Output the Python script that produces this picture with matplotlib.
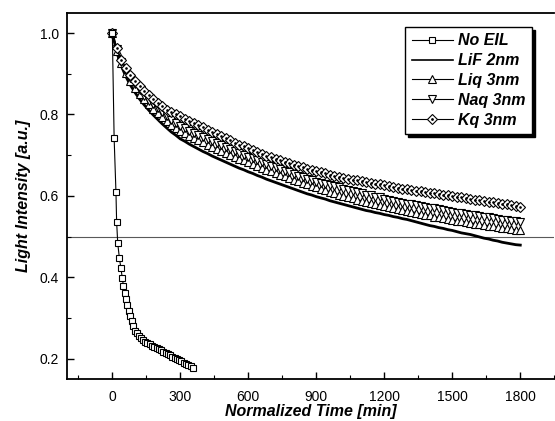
import matplotlib.pyplot as plt
from matplotlib.ticker import MultipleLocator
from matplotlib.legend_handler import HandlerTuple

plt.rcParams['font.family'] = ['Liberation Sans', 'DejaVu Sans']

# sampling grid of the long-lived devices, every 20 min
time_min = list(range(0, 1801, 20))

kq_3nm = [
    1.000, 0.964, 0.935, 0.915, 0.898, 0.883, 0.870, 0.858, 0.847, 0.837,
    0.828, 0.820, 0.812, 0.806, 0.800, 0.795, 0.789, 0.784, 0.778, 0.773,
    0.768, 0.763, 0.757, 0.752, 0.747, 0.742, 0.737, 0.731, 0.726, 0.722,
    0.717, 0.713, 0.708, 0.704, 0.699, 0.695, 0.691, 0.687, 0.683, 0.680,
    0.676, 0.673, 0.670, 0.667, 0.664, 0.661, 0.658, 0.655, 0.652, 0.650,
    0.647, 0.645, 0.642, 0.640, 0.638, 0.636, 0.634, 0.632, 0.630, 0.628,
    0.626, 0.624, 0.622, 0.620, 0.618, 0.616, 0.614, 0.613, 0.611, 0.609,
    0.607, 0.606, 0.604, 0.602, 0.601, 0.599, 0.597, 0.596, 0.594, 0.592,
    0.591, 0.589, 0.587, 0.586, 0.584, 0.582, 0.581, 0.579, 0.577, 0.575,
    0.573,
]

naq_3nm = [
    1.000, 0.960, 0.930, 0.907, 0.890, 0.874, 0.859, 0.846, 0.834, 0.825,
    0.815, 0.805, 0.796, 0.787, 0.779, 0.771, 0.766, 0.760, 0.755, 0.749,
    0.744, 0.740, 0.735, 0.730, 0.725, 0.720, 0.715, 0.710, 0.705, 0.701,
    0.696, 0.692, 0.687, 0.683, 0.678, 0.674, 0.670, 0.666, 0.662, 0.658,
    0.654, 0.650, 0.646, 0.642, 0.639, 0.635, 0.632, 0.630, 0.627, 0.624,
    0.621, 0.618, 0.615, 0.612, 0.609, 0.606, 0.603, 0.601, 0.598, 0.596,
    0.593, 0.591, 0.588, 0.586, 0.583, 0.581, 0.579, 0.577, 0.574, 0.572,
    0.570, 0.569, 0.567, 0.565, 0.563, 0.561, 0.559, 0.557, 0.556, 0.554,
    0.552, 0.550, 0.548, 0.547, 0.545, 0.543, 0.541, 0.540, 0.538, 0.537,
    0.535,
]

liq_3nm = [
    1.000, 0.956, 0.926, 0.903, 0.882, 0.866, 0.851, 0.838, 0.826, 0.813,
    0.803, 0.793, 0.784, 0.775, 0.767, 0.759, 0.754, 0.748, 0.743, 0.737,
    0.732, 0.726, 0.721, 0.716, 0.711, 0.706, 0.701, 0.696, 0.691, 0.687,
    0.682, 0.678, 0.673, 0.669, 0.664, 0.660, 0.656, 0.652, 0.648, 0.644,
    0.640, 0.636, 0.632, 0.628, 0.625, 0.621, 0.617, 0.614, 0.610, 0.607,
    0.603, 0.600, 0.597, 0.594, 0.591, 0.588, 0.585, 0.583, 0.580, 0.578,
    0.575, 0.573, 0.570, 0.568, 0.565, 0.563, 0.561, 0.559, 0.556, 0.554,
    0.552, 0.549, 0.547, 0.545, 0.543, 0.541, 0.539, 0.537, 0.536, 0.534,
    0.532, 0.530, 0.528, 0.527, 0.525, 0.523, 0.521, 0.520, 0.518, 0.517,
    0.515,
]

lif_2nm = [
    1.000, 0.952, 0.919, 0.893, 0.872, 0.854, 0.838, 0.824, 0.811, 0.799,
    0.788, 0.777, 0.767, 0.757, 0.749, 0.740, 0.734, 0.727, 0.721, 0.715,
    0.709, 0.704, 0.698, 0.693, 0.688, 0.683, 0.678, 0.673, 0.668, 0.664,
    0.659, 0.655, 0.650, 0.646, 0.641, 0.637, 0.633, 0.629, 0.625, 0.621,
    0.617, 0.613, 0.609, 0.605, 0.602, 0.598, 0.595, 0.592, 0.588, 0.585,
    0.582, 0.579, 0.576, 0.573, 0.570, 0.567, 0.564, 0.562, 0.559, 0.557,
    0.554, 0.552, 0.549, 0.547, 0.544, 0.542, 0.539, 0.536, 0.533, 0.530,
    0.527, 0.525, 0.522, 0.520, 0.517, 0.515, 0.512, 0.509, 0.507, 0.505,
    0.502, 0.499, 0.496, 0.494, 0.491, 0.489, 0.486, 0.484, 0.482, 0.480,
    0.479,
]

# device without electron injection layer
time_no_eil = [
    0, 8, 16, 19, 24, 31, 38, 44, 49, 55, 60, 66, 72, 78, 85, 92, 100,
    108, 116, 125, 135, 145, 155, 165, 175, 185, 195, 205, 215, 225, 235,
    245, 255, 265, 275, 285, 295, 305, 315, 325, 335, 345, 355,
]
no_eil = [
    1.000, 0.742, 0.610, 0.536, 0.483, 0.448, 0.422, 0.398, 0.379, 0.362,
    0.347, 0.332, 0.318, 0.305, 0.292, 0.280, 0.269, 0.262, 0.256, 0.251,
    0.246, 0.242, 0.238, 0.235, 0.232, 0.229, 0.226, 0.223, 0.220, 0.217,
    0.214, 0.211, 0.208, 0.205, 0.202, 0.199, 0.196, 0.193, 0.190, 0.187,
    0.184, 0.181, 0.177,
]

half_life_level = 0.5


fig = plt.figure(figsize=(5.55, 4.21), dpi=100)
ax = fig.add_axes([0.1207, 0.0998, 0.878, 0.870])

ax.axhline(half_life_level, color='0.35', lw=0.8, zorder=1)

ax.plot(time_min, lif_2nm, color='black', lw=2.0, zorder=2)

mk = dict(color='black', lw=0.8, markerfacecolor='white',
          markeredgecolor='black', markeredgewidth=0.8)

ax.plot(time_min, liq_3nm, marker='^', ms=6, zorder=3, **mk)
ax.plot(time_min, naq_3nm, marker='v', ms=6, zorder=4, **mk)
ax.plot(time_min, kq_3nm, marker='D', ms=4.6, zorder=5, **mk)
ax.plot(time_min, kq_3nm, ls='none', marker='o', ms=0.9,
        color='black', zorder=6)
ax.plot(time_no_eil, no_eil, marker='s', ms=5, zorder=7, **mk)

ax.set_xlim(-200, 1950)
ax.set_ylim(0.15, 1.05)
ax.set_xticks([0, 300, 600, 900, 1200, 1500, 1800])
ax.set_yticks([0.2, 0.4, 0.6, 0.8, 1.0])
ax.set_yticklabels(['0.2', '0.4', '0.6', '0.8', '1.0'])
ax.xaxis.set_minor_locator(MultipleLocator(150))
ax.yaxis.set_minor_locator(MultipleLocator(0.1))
ax.tick_params(which='major', direction='in', length=5, width=1.0,
               labelsize=10, top=False, right=False)
ax.tick_params(which='minor', direction='in', length=3, width=0.8,
               top=False, right=False)
ax.tick_params(axis='x', pad=8)
ax.tick_params(axis='y', pad=6)

for side in ['left', 'bottom', 'top']:
    ax.spines[side].set_linewidth(1.3)
ax.spines['right'].set_visible(False)

ax.set_xlabel('Normalized Time [min]', fontsize=11.5, fontweight='bold',
              fontstyle='italic', labelpad=0)
ax.set_ylabel('Light Intensity [a.u.]', fontsize=11.5, fontweight='bold',
              fontstyle='italic', labelpad=6)

# legend handles
h_no = plt.Line2D([], [], marker='s', ms=5, **mk)
h_lif = plt.Line2D([], [], color='black', lw=1.2)
h_liq = plt.Line2D([], [], marker='^', ms=6, **mk)
h_naq = plt.Line2D([], [], marker='v', ms=6, **mk)
h_kq = plt.Line2D([], [], marker='D', ms=5, **mk)
h_dot = plt.Line2D([], [], ls='none', marker='o', ms=1.0, color='black')

leg = ax.legend(
    [h_no, h_lif, h_liq, h_naq, (h_kq, h_dot)],
    ['No EIL', 'LiF 2nm', 'Liq 3nm', 'Naq 3nm', 'Kq 3nm'],
    handler_map={tuple: HandlerTuple(ndivide=1)},
    loc='upper right', bbox_to_anchor=(0.954, 0.961), borderaxespad=0,
    prop=dict(size=11.5, weight='bold', style='italic'),
    handlelength=2.6, handletextpad=0.3, labelspacing=0.3,
    borderpad=0.4, fancybox=False, edgecolor='black',
    shadow={'color': 'black', 'alpha': 1.0},
)
leg.get_frame().set_linewidth(1.0)

fig.savefig('out.png', dpi=100)
